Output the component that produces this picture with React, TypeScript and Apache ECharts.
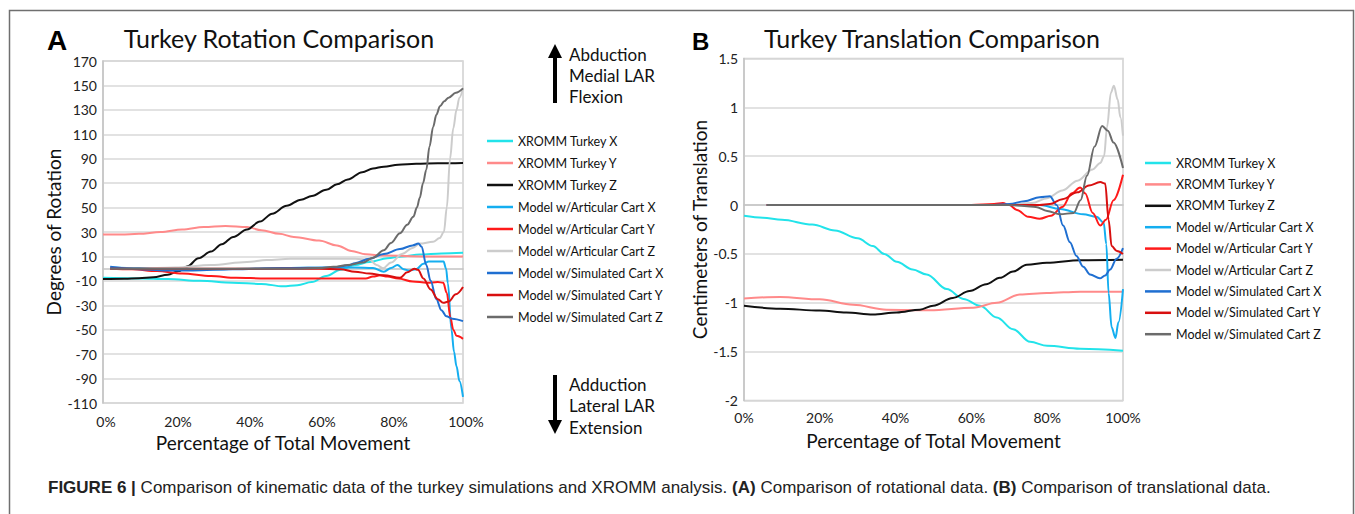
import React, { useEffect, useRef } from "react";
import * as echarts from "echarts";

// ---------- names / colours ----------
const SERIES_NAMES = [
  "XROMM Turkey X",
  "XROMM Turkey Y",
  "XROMM Turkey Z",
  "Model w/Articular Cart X",
  "Model w/Articular Cart Y",
  "Model w/Articular Cart Z",
  "Model w/Simulated Cart X",
  "Model w/Simulated Cart Y",
  "Model w/Simulated Cart Z",
];
const SERIES_COLORS = [
  "#22e3ea",
  "#ff8a8a",
  "#111111",
  "#14aef0",
  "#ff1a1a",
  "#cccccc",
  "#1f6fd1",
  "#d80f0f",
  "#6b6b6b",
];

// ---------- axis tick labels ----------
const ROT_TICKS = [-110, -90, -70, -50, -30, -10, 10, 30, 50, 70, 90, 110, 130, 150, 170];
const X_TICKS = ["0%", "20%", "40%", "60%", "80%", "100%"];

// ---------- rotation data (x = % of movement, y = degrees) ----------
const rotXromX = [[0,-7.5],[10,-8],[18,-8.5],[27,-10],[36,-11.5],[44,-12.5],[50,-14.5],[54,-13.5],[58,-11],[62,-6],[66,-1],[70,3],[74,5.5],[79,8.5],[83,10],[88,11.5],[94,12.5],[100,13]];
const rotXromY = [[0,28],[5,28],[10,28.5],[16,30],[22,32],[28,34],[34,35],[40,34],[44,31.5],[49,28.5],[53,26],[60,23],[65,19],[69,14.5],[73,11.7],[78,10.8],[90,10],[100,10]];
const rotXromZ = [[0,-8.5],[6,-8.3],[10,-7.8],[14,-7],[18,-5],[21,-2],[23.5,2],[26.5,8.5],[30,14],[33,20],[36.2,26],[40,32],[43.6,38.5],[47,45],[51,51.5],[55,56.5],[58,59.5],[62,64.5],[65,69],[68,73],[72,79],[75,82],[78,83.5],[82,85],[87,85.8],[93,86.2],[100,86.5]];
const rotArtX = [[2,1],[10,0.5],[20,-0.5],[30,-0.5],[40,0],[50,0.5],[60,0.8],[70,1],[75,0.5],[78,-2.5],[80,0.5],[81.8,3],[83.5,-0.5],[85,-1.5],[87,-0.5],[89,4],[90.5,5.8],[94.6,5.8],[95.3,0],[95.8,-12],[96.8,-50],[97.5,-68],[98.2,-80],[99,-92],[100,-105]];
const rotArtY = [[2,0],[8,-0.5],[15,-2],[22,-4],[30,-6],[37,-7.5],[45,-8],[55,-8],[65,-8],[73,-8],[75,-6.5],[77,-5.5],[79,-6.5],[82,-8],[86,-10.5],[90,-11.5],[93,-11],[94.5,-11.5],[95.5,-20],[96.5,-40],[97.3,-50],[98.2,-55],[100,-57.5]];
const rotArtZ = [[2,0],[10,0],[20,1],[30,3],[40,5.5],[45.5,7],[52,8],[60,8],[70,8],[74,7.5],[76,3],[77.8,0.3],[80,5],[83,12],[86,17],[88,20.5],[91.7,22],[93.5,25],[94.7,30],[95.5,50],[96.4,90],[97.3,115],[98.2,130],[99,140],[100,148]];
const rotSimX = [[2,1.5],[10,-0.5],[17,-1.5],[25,-1.5],[36,-0.5],[50,0.5],[64,1],[68,2.5],[70,4.5],[74,8],[78,12],[82.5,16],[86,19],[87.6,20.5],[88.5,18],[89.8,3],[91,-10],[92.6,-25],[94,-34],[95.4,-39],[97,-41],[100,-43]];
const rotSimY = [[2,0],[10,0],[20,0],[30,0],[40,0],[50,0],[60,0],[66,-0.5],[70,-2.5],[74,-4],[78,-5.5],[82.5,-7.5],[84.5,-3],[86.5,0],[87.5,-1],[89,-8],[91,-17],[93,-25],[94.5,-28],[96,-27],[98,-21],[100,-15]];
const rotSimZ = [[2,0],[20,0],[40,0],[55,0],[60,0.5],[64,1.5],[68,3],[72.2,5],[75,9],[78,15],[80,21],[82.5,29],[84.5,36],[86.2,42.5],[87.2,50],[88,58],[88.9,70],[89.8,81],[90.7,100],[91.7,116],[92.6,126],[93.6,133],[94.8,137],[96,140],[98,144],[100,147.6]];

// ---------- translation data (x = % of movement, y = cm) ----------
const trXromX = [[0,-0.11],[5,-0.13],[10,-0.15],[18,-0.2],[24,-0.26],[30,-0.34],[34,-0.42],[37,-0.5],[40.3,-0.58],[44.5,-0.66],[48.2,-0.71],[53.5,-0.86],[57.9,-0.96],[62.3,-1.03],[66.7,-1.15],[71,-1.27],[75.5,-1.4],[80,-1.44],[88.7,-1.47],[100,-1.49]];
const trXromY = [[0,-0.955],[9.5,-0.94],[20,-0.965],[28.8,-1.02],[37.6,-1.07],[49,-1.077],[60.5,-1.05],[66.7,-1.0],[72.8,-0.915],[79.9,-0.9],[88.7,-0.886],[100,-0.886]];
const trXromZ = [[0,-1.03],[9.5,-1.06],[20,-1.08],[27,-1.1],[34,-1.12],[40.3,-1.1],[46.4,-1.07],[49.9,-1.03],[55.1,-0.95],[59.5,-0.88],[63.9,-0.81],[67.5,-0.745],[71,-0.68],[74.6,-0.61],[79.9,-0.59],[88.7,-0.565],[100,-0.56]];
const trArtX = [[6,0],[20,0],[40,0],[60,0],[70,0],[78,0],[83.4,-0.04],[89.5,-0.095],[93,-0.12],[94.9,-0.18],[95.6,-0.4],[96.2,-0.9],[97,-1.25],[98,-1.36],[98.8,-1.2],[100,-0.86]];
const trArtY = [[6,0],[60,0],[66,0.01],[68.3,0.02],[70,0],[72,-0.05],[75,-0.12],[78,-0.14],[81,-0.11],[84,-0.02],[86.5,0.12],[88.7,0.18],[90,0.12],[92,-0.08],[94,-0.21],[95.5,-0.15],[97.5,0.05],[100,0.31]];
const trArtZ = [[6,0],[70,0],[76,0.02],[80,0.07],[84,0.15],[88,0.25],[92,0.365],[94,0.43],[95,0.5],[95.8,0.8],[96.8,1.15],[97.6,1.22],[98.6,1.08],[99.3,0.9],[100,0.71]];
const trSimX = [[6,0],[66,0],[70,0.01],[74,0.04],[78,0.08],[80.7,0.09],[82.5,0.0],[84.2,-0.21],[86,-0.38],[87.7,-0.52],[89.5,-0.63],[91.3,-0.71],[93.9,-0.75],[95.3,-0.72],[96.6,-0.66],[98.3,-0.55],[100,-0.44]];
const trSimY = [[6,0],[70,0],[78,0],[80.7,0.01],[84,0.06],[88,0.13],[91,0.2],[94,0.235],[95.3,0.22],[96.2,-0.15],[97,-0.42],[98.4,-0.47],[100,-0.5]];
const trSimZ = [[6,0],[70,0],[74,-0.01],[77,-0.02],[80,-0.06],[83.4,-0.095],[87,-0.08],[88.8,0.05],[90.5,0.3],[92.5,0.6],[94.5,0.81],[96,0.76],[97.5,0.64],[100,0.38]];

const ROT_SERIES = [rotXromX, rotXromY, rotXromZ, rotArtX, rotArtY, rotArtZ, rotSimX, rotSimY, rotSimZ];
const TR_SERIES = [trXromX, trXromY, trXromZ, trArtX, trArtY, trArtZ, trSimX, trSimY, trSimZ];

const FONT = 'Lato, "Noto Sans", sans-serif';
const CAP_FONT = '"Liberation Sans", Arial, sans-serif';

export default function App() {
  const ref = useRef<HTMLDivElement>(null);

  useEffect(() => {
    if (!ref.current) return;
    const chart = echarts.init(ref.current, null, { renderer: "svg" });

    const axisLabel = { color: "#222", fontSize: 14, fontFamily: FONT };
    const gridLine = { show: true, lineStyle: { color: "#d9d9d9", width: 1.5 } };
    const axLine = { show: true, lineStyle: { color: "#c4c4c4", width: 1.5 } };
    const nameStyle = { color: "#111", fontSize: 19, fontFamily: FONT };

    const mkSeries = (data: number[][][], xi: number, yi: number) =>
      data.map((d, i) => ({
        type: "line",
        name: SERIES_NAMES[i],
        xAxisIndex: xi,
        yAxisIndex: yi,
        data: d,
        showSymbol: false,
        smooth: 0.35,
        smoothMonotone: "x",
        lineStyle: { width: 2, color: SERIES_COLORS[i] },
        itemStyle: { color: SERIES_COLORS[i] },
      }));

    const legendBase = {
      data: SERIES_NAMES,
      orient: "vertical",
      icon: "rect",
      itemWidth: 26,
      itemHeight: 2.5,
      padding: 0,
      selectedMode: false,
      textStyle: { fontSize: 12.5, fontFamily: FONT, color: "#111", lineHeight: 14 },
    };

    const option = {
      animation: false,
      backgroundColor: "#ffffff",
      grid: [
        { left: 103, top: 61, width: 360, height: 342, show: true, borderColor: "#cfcfcf", borderWidth: 1.5 },
        { left: 744, top: 58.5, width: 379, height: 342, show: true, borderColor: "#cfcfcf", borderWidth: 1.5 },
      ],
      xAxis: [
        {
          gridIndex: 0, type: "value", min: 0, max: 100, interval: 20,
          axisLabel: { ...axisLabel, margin: 11, padding: [0, 0, 0, 6], formatter: (v: number) => X_TICKS[Math.round(v / 20)] },
          axisLine: axLine, axisTick: { show: false }, splitLine: { show: false },
          name: "Percentage of Total Movement", nameLocation: "middle", nameGap: 30, nameTextStyle: nameStyle,
        },
        {
          gridIndex: 1, type: "value", min: 0, max: 100, interval: 20,
          axisLabel: { ...axisLabel, margin: 10, formatter: (v: number) => X_TICKS[Math.round(v / 20)] },
          axisLine: axLine, axisTick: { show: false }, splitLine: { show: false },
          name: "Percentage of Total Movement", nameLocation: "middle", nameGap: 30, nameTextStyle: nameStyle,
        },
      ],
      yAxis: [
        { gridIndex: 0, type: "value", min: -110, max: 170, show: false, position: "right" },
        {
          gridIndex: 0, type: "value", position: "left", min: 0, max: 280, interval: 20,
          axisLabel: { ...axisLabel, margin: 6, formatter: (v: number) => String(ROT_TICKS[Math.round(v / 20)]) },
          axisLine: axLine, axisTick: { show: false }, splitLine: gridLine,
          name: "Degrees of Rotation", nameLocation: "middle", nameGap: 40, nameRotate: 90, nameTextStyle: nameStyle,
        },
        {
          gridIndex: 1, type: "value", position: "left", min: -2, max: 1.5, interval: 0.5,
          axisLabel: { ...axisLabel, margin: 6 },
          axisLine: axLine, axisTick: { show: false }, splitLine: gridLine,
          name: "Centimeters of Translation", nameLocation: "middle", nameGap: 34, nameRotate: 90, nameTextStyle: nameStyle,
        },
      ],
      legend: [
        { ...legendBase, left: 487, top: 134, itemGap: 8 },
        { ...legendBase, left: 1145, top: 156, itemGap: 7.4 },
      ],
      series: [...mkSeries(ROT_SERIES, 0, 0), ...mkSeries(TR_SERIES, 1, 2)],
      graphic: [
        { type: "rect", shape: { x: 9.5, y: 10.5, width: 1344, height: 600 }, style: { fill: "none", stroke: "#6f6f6f", lineWidth: 1.5 }, silent: true },
        { type: "text", x: 47, y: 40, style: { text: "A", fontSize: 28, fontWeight: "bold", fontFamily: CAP_FONT, fill: "#000", verticalAlign: "middle" } },
        { type: "text", x: 692, y: 41, style: { text: "B", fontSize: 24, fontWeight: "bold", fontFamily: CAP_FONT, fill: "#000", verticalAlign: "middle" } },
        { type: "text", x: 279, y: 38, style: { text: "Turkey Rotation Comparison", fontSize: 25, fontFamily: FONT, fill: "#111", align: "center", verticalAlign: "middle" } },
        { type: "text", x: 932, y: 38, style: { text: "Turkey Translation Comparison", fontSize: 25, fontFamily: FONT, fill: "#111", align: "center", verticalAlign: "middle" } },
        // up arrow
        { type: "line", shape: { x1: 555, y1: 103, x2: 555, y2: 56 }, style: { stroke: "#000", lineWidth: 4 } },
        { type: "polygon", shape: { points: [[548, 58], [562, 58], [555, 44]] }, style: { fill: "#000" } },
        { type: "text", x: 569, y: 54, style: { text: "Abduction", fontSize: 17, fontFamily: FONT, fill: "#111", verticalAlign: "middle" } },
        { type: "text", x: 569, y: 75, style: { text: "Medial LAR", fontSize: 17, fontFamily: FONT, fill: "#111", verticalAlign: "middle" } },
        { type: "text", x: 569, y: 96, style: { text: "Flexion", fontSize: 17, fontFamily: FONT, fill: "#111", verticalAlign: "middle" } },
        // down arrow
        { type: "line", shape: { x1: 555, y1: 375, x2: 555, y2: 422 }, style: { stroke: "#000", lineWidth: 4 } },
        { type: "polygon", shape: { points: [[548, 420], [562, 420], [555, 434]] }, style: { fill: "#000" } },
        { type: "text", x: 569, y: 384, style: { text: "Adduction", fontSize: 17, fontFamily: FONT, fill: "#111", verticalAlign: "middle" } },
        { type: "text", x: 569, y: 405, style: { text: "Lateral LAR", fontSize: 17, fontFamily: FONT, fill: "#111", verticalAlign: "middle" } },
        { type: "text", x: 569, y: 427, style: { text: "Extension", fontSize: 17, fontFamily: FONT, fill: "#111", verticalAlign: "middle" } },
        // caption
        {
          type: "text", x: 48, y: 487,
          style: {
            text: "{b|FIGURE 6 |}{n| Comparison of kinematic data of the turkey simulations and XROMM analysis. }{b|(A)}{n| Comparison of rotational data. }{b|(B)}{n| Comparison of translational data.}",
            fontSize: 17, fontFamily: CAP_FONT, fill: "#222", verticalAlign: "middle",
            rich: {
              b: { fontSize: 17, fontFamily: CAP_FONT, fontWeight: "bold", fill: "#222" },
              n: { fontSize: 17, fontFamily: CAP_FONT, fill: "#222" },
            },
          },
        },
      ],
    };

    chart.setOption(option as any);
    return () => chart.dispose();
  }, []);

  return (
    <div
      ref={ref}
      style={{ position: "fixed", left: 0, top: 0, width: 1355, height: 514, background: "#fff" }}
    />
  );
}
